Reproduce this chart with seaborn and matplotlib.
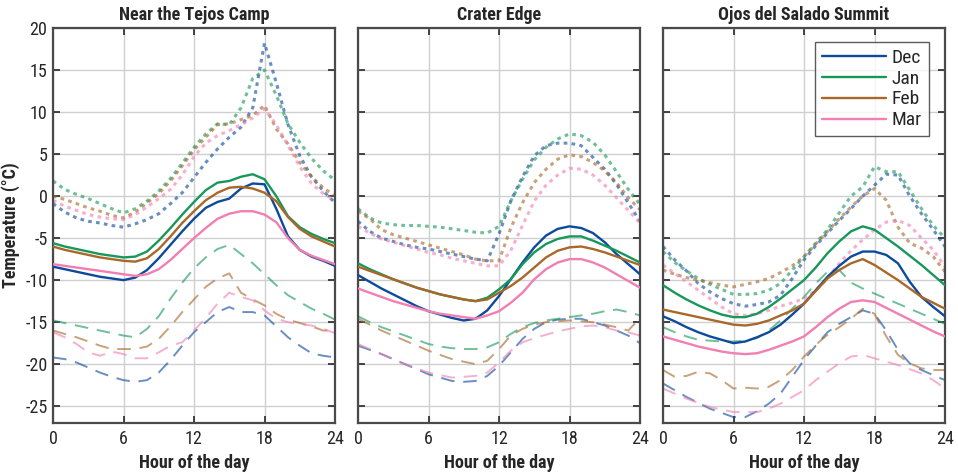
import matplotlib
matplotlib.use("Agg")
import matplotlib.pyplot as plt
from matplotlib import font_manager as fm
import seaborn as sns
import pandas as pd

hours = list(range(25))
months = ["Dec", "Jan", "Feb", "Mar"]
titles = ["Near the Tejos Camp", "Crater Edge", "Ojos del Salado Summit"]

# ---- Near the Tejos Camp ----
t_dec = [-8.4,-8.7,-9.0,-9.3,-9.6,-9.8,-10.0,-9.7,-8.8,-7.4,-5.8,-4.2,-2.7,-1.4,-0.7,-0.3,0.9,1.5,1.4,-1.5,-4.8,-6.4,-7.2,-7.7,-8.3]
t_jan = [-5.6,-6.0,-6.3,-6.6,-6.9,-7.1,-7.3,-7.2,-6.6,-5.3,-3.8,-2.2,-0.7,0.7,1.6,1.8,2.3,2.6,2.0,0.0,-2.4,-3.7,-4.5,-5.1,-5.6]
t_feb = [-6.0,-6.4,-6.7,-7.0,-7.3,-7.5,-7.7,-7.8,-7.4,-6.3,-4.8,-3.2,-1.8,-0.5,0.4,1.0,1.1,0.9,0.4,-0.6,-2.5,-3.9,-4.8,-5.4,-6.0]
t_mar = [-8.1,-8.3,-8.5,-8.7,-8.9,-9.1,-9.3,-9.5,-9.3,-8.7,-7.6,-6.3,-5.0,-3.8,-2.7,-2.1,-1.8,-1.8,-2.2,-3.1,-5.0,-6.4,-7.1,-7.6,-8.1]

tx_dec = [-0.9,-1.9,-2.6,-3.0,-3.2,-3.5,-3.7,-3.3,-2.8,-2.1,-0.9,0.4,2.2,4.0,5.6,7.0,8.2,10.5,18.2,13.5,8.5,4.8,2.3,0.6,-0.8]
tx_jan = [1.8,0.8,0.2,-0.3,-0.9,-1.5,-2.0,-1.5,-0.6,0.6,2.1,3.9,5.8,7.4,8.6,8.5,10.5,14.0,15.0,12.0,8.6,6.4,4.5,3.0,1.9]
tx_feb = [0.0,-0.4,-0.9,-1.4,-1.8,-2.3,-2.6,-1.9,-0.8,0.3,1.8,3.6,5.5,7.0,8.5,8.6,9.1,9.6,10.8,8.0,6.2,4.0,2.3,1.0,0.0]
tx_mar = [-0.5,-1.2,-1.7,-2.2,-2.5,-2.7,-2.8,-2.2,-1.3,-0.3,0.8,2.5,4.7,6.3,7.2,7.8,8.5,9.3,10.4,8.5,6.0,3.5,1.5,0.3,-0.5]

tn_dec = [-19.2,-19.4,-19.8,-20.4,-21.0,-21.5,-21.9,-22.1,-21.9,-21.0,-19.5,-17.8,-16.2,-15.0,-13.8,-13.2,-13.8,-13.8,-14.2,-15.5,-16.8,-17.8,-18.7,-19.0,-19.2]
tn_jan = [-14.8,-15.1,-15.4,-15.7,-16.0,-16.3,-16.6,-16.8,-15.8,-14.3,-12.2,-10.3,-8.6,-7.3,-6.3,-5.8,-6.9,-8.0,-9.3,-10.6,-11.8,-12.6,-13.4,-14.0,-14.7]
tn_feb = [-16.0,-16.4,-16.8,-17.3,-17.8,-18.2,-18.2,-18.2,-17.9,-17.0,-15.5,-13.8,-12.3,-10.8,-9.8,-9.2,-11.5,-12.3,-13.0,-14.0,-14.7,-15.1,-15.5,-16.0,-16.0]
tn_mar = [-16.2,-16.8,-17.6,-18.6,-19.0,-18.5,-18.8,-19.3,-19.3,-18.6,-17.8,-17.4,-16.0,-14.5,-12.8,-11.5,-12.0,-12.4,-13.6,-14.6,-15.0,-15.2,-15.4,-15.8,-16.3]

# ---- Crater Edge ----
c_dec = [-9.4,-10.2,-11.0,-11.7,-12.4,-13.1,-13.7,-14.1,-14.5,-14.8,-14.6,-13.6,-11.9,-9.9,-7.9,-6.1,-4.7,-3.9,-3.6,-3.8,-4.4,-5.5,-6.9,-8.1,-9.3]
c_jan = [-8.0,-8.7,-9.3,-9.9,-10.4,-10.9,-11.3,-11.7,-12.0,-12.3,-12.5,-12.1,-11.1,-9.9,-8.1,-6.7,-5.7,-5.1,-4.8,-4.8,-5.3,-5.9,-6.5,-7.2,-7.9]
c_feb = [-8.4,-8.9,-9.4,-9.9,-10.4,-10.9,-11.3,-11.7,-12.0,-12.3,-12.5,-12.3,-11.5,-10.7,-9.7,-8.5,-7.3,-6.5,-6.1,-6.0,-6.3,-6.7,-7.2,-7.7,-8.2]
c_mar = [-11.0,-11.5,-12.0,-12.5,-12.9,-13.3,-13.7,-14.0,-14.2,-14.4,-14.6,-14.2,-13.7,-12.7,-11.5,-9.9,-8.7,-7.9,-7.5,-7.5,-7.9,-8.5,-9.3,-10.1,-10.9]

cx_dec = [-3.0,-4.2,-5.0,-5.4,-5.8,-6.1,-6.3,-6.6,-6.9,-7.2,-7.5,-7.7,-4.5,-0.6,2.3,4.8,6.0,6.3,6.3,6.0,4.6,3.2,1.4,-0.8,-3.0]
cx_jan = [-1.5,-2.6,-3.2,-3.4,-3.5,-3.5,-3.6,-3.7,-3.9,-4.1,-4.3,-4.4,-3.6,-0.6,2.0,4.3,5.8,6.8,7.4,7.2,6.4,4.9,2.9,0.8,-1.0]
cx_feb = [-1.8,-2.7,-4.0,-4.6,-5.0,-5.4,-5.8,-6.2,-6.6,-7.0,-7.5,-7.7,-7.7,-3.8,-0.8,1.6,3.2,4.4,4.9,4.7,4.0,3.0,1.6,-0.2,-1.6]
cx_mar = [-3.6,-4.4,-5.1,-5.5,-5.9,-6.3,-6.7,-7.0,-7.4,-7.7,-8.0,-8.3,-8.3,-6.5,-3.5,-0.6,1.3,2.5,3.3,3.2,2.5,1.3,-0.2,-1.7,-3.2]

cn_dec = [-17.8,-18.3,-18.8,-19.4,-20.0,-20.6,-21.2,-21.6,-22.0,-22.1,-22.0,-21.4,-20.2,-18.6,-17.0,-15.8,-15.0,-14.7,-14.6,-14.6,-15.0,-15.4,-16.0,-16.6,-17.5]
cn_jan = [-14.3,-15.0,-15.6,-16.1,-16.6,-17.1,-17.6,-17.9,-18.1,-18.2,-18.2,-18.0,-17.4,-16.4,-15.6,-15.1,-14.8,-14.6,-14.4,-14.2,-14.0,-13.7,-13.5,-13.8,-14.2]
cn_feb = [-14.6,-15.3,-16.0,-16.6,-17.2,-17.8,-18.4,-18.9,-19.4,-19.7,-20.0,-19.6,-18.2,-16.6,-15.8,-15.3,-15.0,-14.9,-14.8,-14.9,-15.0,-15.3,-15.6,-16.0,-14.5]
cn_mar = [-17.6,-18.2,-18.8,-19.4,-20.0,-20.5,-21.0,-21.3,-21.6,-21.5,-21.4,-21.0,-19.8,-18.4,-17.4,-16.9,-16.5,-16.1,-15.8,-15.5,-15.4,-15.6,-16.0,-16.2,-16.6]

# ---- Ojos del Salado Summit ----
o_dec = [-14.3,-14.9,-15.6,-16.2,-16.7,-17.1,-17.5,-17.3,-16.8,-16.2,-15.3,-14.1,-12.8,-11.2,-9.6,-8.3,-7.2,-6.6,-6.6,-7.0,-8.0,-10.2,-12.0,-13.2,-14.3]
o_jan = [-10.6,-11.5,-12.3,-13.0,-13.6,-14.1,-14.4,-14.4,-14.0,-13.2,-12.2,-11.1,-10.0,-8.5,-6.8,-5.4,-4.2,-3.6,-4.0,-5.0,-6.0,-7.1,-8.2,-9.4,-10.6]
o_feb = [-13.5,-13.8,-14.1,-14.4,-14.7,-15.0,-15.3,-15.4,-15.2,-14.8,-14.2,-13.6,-12.8,-11.3,-9.8,-8.8,-8.0,-7.5,-8.2,-9.1,-10.0,-11.0,-12.0,-12.7,-13.4]
o_mar = [-16.7,-17.1,-17.5,-17.9,-18.2,-18.5,-18.7,-18.8,-18.7,-18.3,-17.8,-17.3,-16.7,-15.6,-14.4,-13.4,-12.6,-12.4,-12.6,-13.3,-14.0,-14.7,-15.4,-16.1,-16.7]

ox_dec = [-6.0,-7.6,-8.9,-10.4,-11.4,-12.2,-12.8,-13.1,-12.9,-12.6,-11.8,-9.8,-7.6,-5.9,-4.4,-2.9,-1.5,0.0,1.3,2.6,2.5,0.0,-2.1,-4.0,-6.0]
ox_jan = [-6.6,-7.9,-8.9,-9.8,-10.5,-11.1,-11.7,-11.7,-11.6,-11.2,-10.4,-8.8,-7.2,-5.6,-4.0,-2.0,0.0,1.1,3.5,2.9,2.9,0.7,-1.5,-3.5,-5.0]
ox_feb = [-8.8,-9.3,-9.7,-10.0,-10.3,-10.6,-10.8,-10.5,-10.2,-9.8,-9.1,-8.3,-7.2,-5.7,-4.2,-2.7,-1.3,0.0,0.9,-0.5,-3.7,-5.6,-6.2,-7.2,-9.0]
ox_mar = [-8.2,-9.2,-10.2,-11.2,-12.2,-13.2,-14.0,-14.2,-14.0,-13.6,-13.1,-12.7,-12.2,-11.2,-9.8,-8.0,-6.5,-5.2,-4.0,-3.1,-2.9,-3.5,-5.0,-6.4,-8.4]

on_dec = [-22.3,-23.1,-23.9,-24.6,-25.3,-25.8,-26.3,-26.3,-25.6,-24.7,-23.5,-21.5,-19.5,-17.8,-16.2,-15.2,-14.4,-13.6,-14.0,-16.0,-18.3,-19.9,-20.7,-21.3,-21.9]
on_jan = [-15.6,-16.2,-16.7,-17.1,-17.2,-17.3,-17.3,-17.2,-16.9,-16.0,-14.8,-13.4,-12.0,-10.4,-9.0,-8.8,-10.3,-11.0,-11.6,-12.2,-12.8,-13.4,-14.0,-14.6,-15.2]
on_feb = [-20.7,-21.5,-21.4,-20.9,-21.1,-21.9,-22.9,-22.8,-22.9,-22.7,-21.9,-20.7,-19.1,-17.7,-16.5,-15.6,-14.6,-13.4,-14.0,-16.7,-18.9,-19.9,-20.5,-20.7,-20.7]
on_mar = [-22.9,-23.5,-24.1,-24.6,-25.1,-25.4,-25.7,-25.7,-25.7,-25.3,-24.7,-23.9,-23.1,-21.9,-20.9,-19.9,-19.1,-18.9,-19.3,-19.7,-20.1,-20.6,-21.1,-21.9,-22.9]

x_ticks = [0, 6, 12, 18, 24]
y_ticks = [-25, -20, -15, -10, -5, 0, 5, 10, 15, 20]

panels = [
    {"mean": [t_dec, t_jan, t_feb, t_mar], "max": [tx_dec, tx_jan, tx_feb, tx_mar], "min": [tn_dec, tn_jan, tn_feb, tn_mar]},
    {"mean": [c_dec, c_jan, c_feb, c_mar], "max": [cx_dec, cx_jan, cx_feb, cx_mar], "min": [cn_dec, cn_jan, cn_feb, cn_mar]},
    {"mean": [o_dec, o_jan, o_feb, o_mar], "max": [ox_dec, ox_jan, ox_feb, ox_mar], "min": [on_dec, on_jan, on_feb, on_mar]},
]

colors = {"Dec": "#0d4a9c", "Jan": "#17985a", "Feb": "#a8682a", "Mar": "#f27fb2"}

sns.set_theme(style="white")

# pick a condensed font if one is installed
chosen = None
prefs = ["roboto condensed", "robotocondensed", "opensans_condensed", "opensanscondensed",
         "open sans condensed", "liberationsansnarrow", "liberation sans narrow",
         "dejavusanscondensed", "notosanscondensed", "notosans-condensed"]
entries = []
for f in fm.fontManager.ttflist:
    key = (f.fname.lower().replace("-", "").replace("_", "").split("/")[-1] + " " + f.name.lower())
    entries.append((key, f))
for p in prefs:
    pk = p.replace("-", "").replace("_", "").replace(" ", "")
    for key, f in entries:
        if pk in key.replace(" ", ""):
            chosen = f
            break
    if chosen is not None:
        break

if chosen is not None:
    plt.rcParams["font.family"] = [chosen.name, "DejaVu Sans"]
    plt.rcParams["font.stretch"] = chosen.stretch
    fs_tick, fs_lab, fs_title, fs_leg = 13, 13, 13, 14
else:
    plt.rcParams["font.family"] = ["DejaVu Sans"]
    fs_tick, fs_lab, fs_title, fs_leg = 11, 11, 11, 11
plt.rcParams["axes.unicode_minus"] = False

fig = plt.figure(figsize=(9.58, 4.73), dpi=100)
lefts = [53 / 958, 358 / 958, 663 / 958]
width = 282 / 958
bottom = 1 - 423 / 473
height = (423 - 28) / 473

for pi, panel in enumerate(panels):
    ax = fig.add_axes([lefts[pi], bottom, width, height])
    ax.grid(True, color="#cfcfcf", linewidth=1.0, zorder=0)
    ax.set_axisbelow(True)
    for kind in ["min", "max"]:
        rows = []
        for mi, m in enumerate(months):
            for h, v in zip(hours, panel[kind][mi]):
                rows.append({"hour": h, "T": v, "month": m})
        df = pd.DataFrame(rows)
        for m in months:
            sub = df[df["month"] == m]
            if kind == "max":
                sns.lineplot(data=sub, x="hour", y="T", ax=ax, color=colors[m], alpha=0.62,
                             linewidth=2.2, legend=False, zorder=2)
                ax.lines[-1].set_dashes([1.2, 1.4])
            else:
                sns.lineplot(data=sub, x="hour", y="T", ax=ax, color=colors[m], alpha=0.62,
                             linewidth=1.4, legend=False, zorder=2)
                ax.lines[-1].set_dashes([7, 4.5])
    handles = []
    for mi, m in enumerate(months):
        sub = pd.DataFrame({"hour": hours, "T": panel["mean"][mi]})
        sns.lineplot(data=sub, x="hour", y="T", ax=ax, color=colors[m], linewidth=1.7,
                     legend=False, zorder=3)
        handles.append(ax.lines[-1])
    ax.set_xlim(0, 24)
    ax.set_ylim(-27, 20)
    ax.set_xticks(x_ticks)
    ax.set_yticks(y_ticks)
    ax.tick_params(direction="in", length=5, width=1.2, color="#262626",
                   top=True, right=True, bottom=True, left=True, labelsize=fs_tick, pad=4)
    ax.tick_params(axis="x", pad=5)
    for s in ax.spines.values():
        s.set_color("#4a4a4a")
        s.set_linewidth(1.6)
        s.set_visible(True)
    ax.set_xlabel("Hour of the day", fontsize=fs_lab, fontweight="bold", labelpad=4)
    ax.set_title(titles[pi], fontsize=fs_title, fontweight="bold", pad=6)
    if pi == 0:
        ax.set_yticklabels([str(v) for v in y_ticks])
        ax.set_ylabel("Temperature (°C)", fontsize=fs_lab, fontweight="bold", labelpad=4)
    else:
        ax.set_yticklabels([])
        ax.set_ylabel("")
    ax.set_xticklabels([str(v) for v in x_ticks])
    if pi == 2:
        leg = ax.legend(handles=handles, labels=months, loc="upper right",
                        bbox_to_anchor=(0.943, 0.965), borderaxespad=0.0,
                        fontsize=fs_leg, frameon=True, fancybox=False,
                        handlelength=3.3, handletextpad=0.3, borderpad=0.35,
                        labelspacing=0.15)
        leg.get_frame().set_edgecolor("#333333")
        leg.get_frame().set_linewidth(1.0)

fig.savefig("out.png", dpi=100)
